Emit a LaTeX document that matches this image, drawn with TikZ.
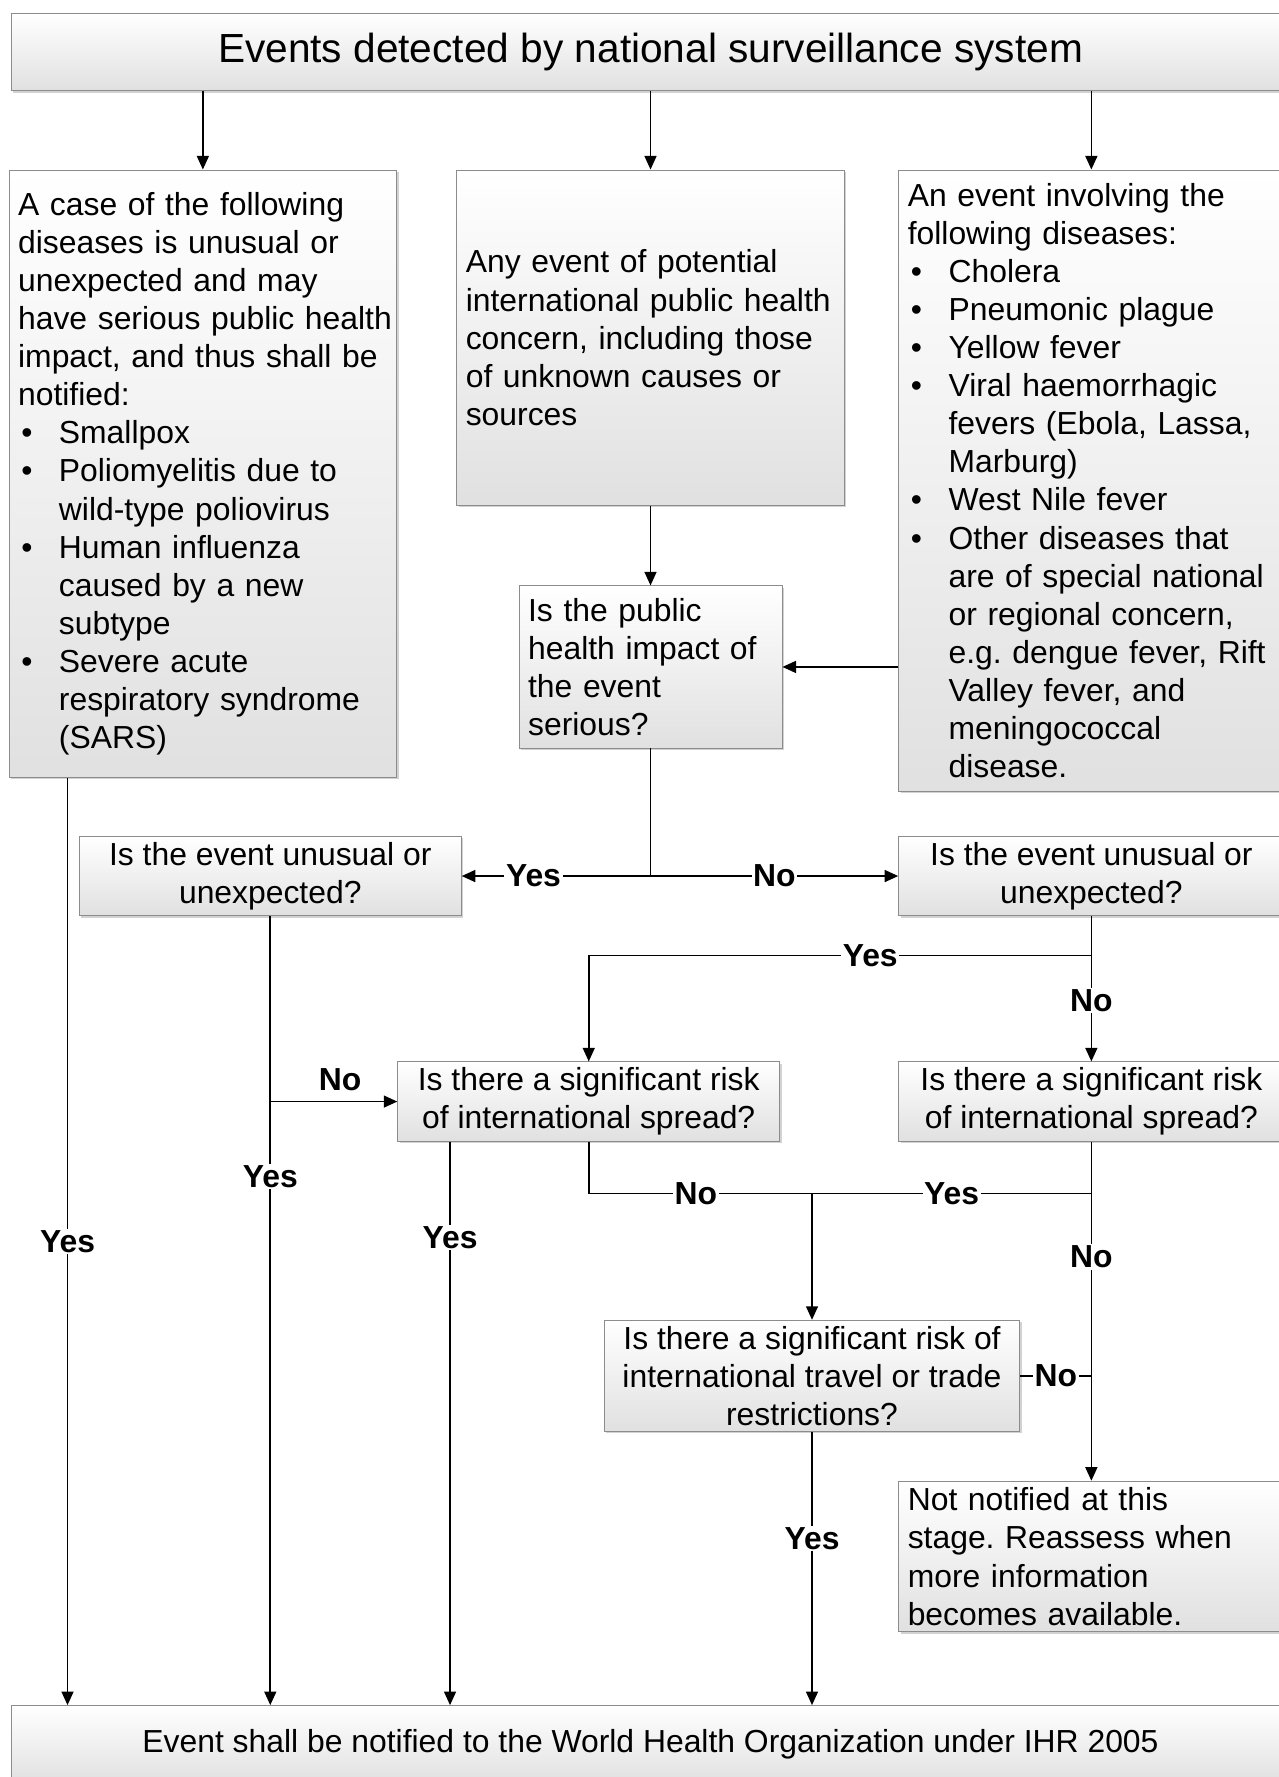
\documentclass[tikz,border=0pt]{standalone}
\usepackage{fontspec}
\setmainfont{Liberation Sans}
\usepackage{tikz}
\usetikzlibrary{arrows.meta,shadows}
\newcommand{\itm}{\makebox[0.9cm][l]{\hspace{2pt}\textbullet}}
\newcommand{\cont}{\hspace*{0.9cm}}

\begin{document}
\frenchspacing
\fontsize{20}{23.9}\selectfont
\begin{tikzpicture}[
    box/.style={draw=black!45, line width=0.6pt, top color=white, bottom color=black!12, drop shadow={shadow xshift=1.2pt, shadow yshift=-1.2pt, fill=black!35, opacity=0.5}, inner xsep=0.2cm, inner ysep=0pt},
    lbox/.style={box, align=left},
    cbox/.style={box, align=center},
    arr/.style={-{Triangle[length=8.5pt,width=7.5pt]}, line width=1pt},
    ln/.style={line width=1pt},
    lbl/.style={font=\bfseries, fill=white, inner sep=1pt}
]
\useasboundingbox (0,0) rectangle (28.2,-39.2);
\node[cbox, minimum width=28.2cm, minimum height=1.7cm, font=\fontsize{25.5}{30}\selectfont] (T) at (14.35,-1.15) {Events detected by national surveillance system};
\node[lbox, text width=8.15cm, minimum height=13.4cm] (K) at (4.475,-10.45) {A case of the following\\
diseases is unusual or\\
unexpected and may\\
\mbox{have serious public health}\\
impact, and thus shall be\\
notified:\\
\itm Smallpox\\
\itm Poliomyelitis due to\\
\cont wild-type poliovirus\\
\itm Human influenza\\
\cont caused by a new\\
\cont subtype\\
\itm Severe acute\\
\cont respiratory syndrome\\
\cont (SARS)};
\node[lbox, text width=8.15cm, minimum height=7.4cm] (A) at (14.35,-7.45) {Any event of potential\\
\mbox{international public health}\\
concern, including those\\
of unknown causes or\\
sources};
\node[lbox, text width=8.1cm, minimum height=13.7cm] (L) at (24.075,-10.6) {An event involving the\\
following diseases:\\
\itm Cholera\\
\itm Pneumonic plague\\
\itm Yellow fever\\
\itm Viral haemorrhagic\\
\cont fevers (Ebola, Lassa,\\
\cont Marburg)\\
\itm West Nile fever\\
\itm Other diseases that\\
\cont are of special national\\
\cont or regional concern,\\
\cont e.g. dengue fever, Rift\\
\cont Valley fever, and\\
\cont meningococcal\\
\cont disease.};
\node[lbox, text width=5.4cm, minimum height=3.575cm] (Q) at (14.35,-14.7125) {Is the public\\health impact of\\the event\\serious?};
\node[cbox, minimum width=8.425cm, minimum height=1.75cm] (U1) at (5.9625,-19.325) {Is the event unusual or\\unexpected?};
\node[cbox, minimum width=8.5cm, minimum height=1.75cm] (U2) at (24.075,-19.325) {Is the event unusual or\\unexpected?};
\node[cbox, minimum width=8.425cm, minimum height=1.75cm] (S1) at (12.9875,-24.3) {Is there a significant risk\\of international spread?};
\node[cbox, minimum width=8.5cm, minimum height=1.75cm] (S2) at (24.075,-24.3) {Is there a significant risk\\of international spread?};
\node[cbox, minimum width=9.175cm, minimum height=2.45cm] (R) at (17.9125,-30.35) {Is there a significant risk of\\international travel or trade\\restrictions?};
\node[lbox, text width=8.1cm, minimum height=3.325cm] (X) at (24.075,-34.3375) {Not notified at this\\stage. Reassess when\\more information\\becomes available.};
\node[cbox, minimum width=28.2cm, minimum height=1.725cm] (W) at (14.35,-38.4875) {Event shall be notified to the World Health Organization under IHR 2005};

\coordinate (J0) at (Q.south |- U1.east);
\coordinate (J1) at (24.075,-21.075);
\coordinate (J2) at (17.9125,-26.325);
\coordinate (K1) at ([xshift=1.3cm]K.south west);
\coordinate (S1a) at ([xshift=-3.06cm]S1.south);

\draw[arr] (T.south -| K.north) -- (K.north);
\draw[arr] (T.south -| A.north) -- (A.north);
\draw[arr] (T.south -| L.north) -- (L.north);
\draw[arr] (A) -- (Q);
\draw[arr] (L.west |- Q.east) -- (Q.east);
\draw[ln] (Q.south) -- (J0);
\draw[arr] (J0) -- node[lbl, pos=0.62] {Yes} (U1.east);
\draw[arr] (J0) -- node[lbl, pos=0.5] {No} (U2.west);
\draw[arr] (K1) -- node[lbl] {Yes} (K1 |- W.north);
\draw[arr] (U1.south) -- node[lbl, pos=0.33] {Yes} (U1.south |- W.north);
\draw[arr] (U1.south |- S1.west) -- node[lbl, above=5pt, pos=0.55] {No} (S1.west);
\draw[arr] (U2.south) -- node[lbl, pos=0.58] {No} (S2.north);
\draw[arr] (J1) -- node[lbl, pos=0.44] {Yes} (J1 -| S1.north) -- (S1.north);
\draw[arr] (S1a) -- node[lbl, pos=0.17] {Yes} (S1a |- W.north);
\draw[ln] (S1.south) -- (S1.south |- J2) -- node[lbl, pos=0.48] {No} (J2);
\draw[ln] (S2.south |- J2) -- node[lbl, pos=0.5] {Yes} (J2);
\draw[arr] (J2) -- (R.north);
\draw[arr] (S2.south) -- node[lbl, pos=0.34] {No} (X.north);
\draw[ln] (R.east) -- node[lbl] {No} (R.east -| X.north);
\draw[arr] (R.south) -- node[lbl, pos=0.39] {Yes} (R.south |- W.north);
\end{tikzpicture}
\end{document}
